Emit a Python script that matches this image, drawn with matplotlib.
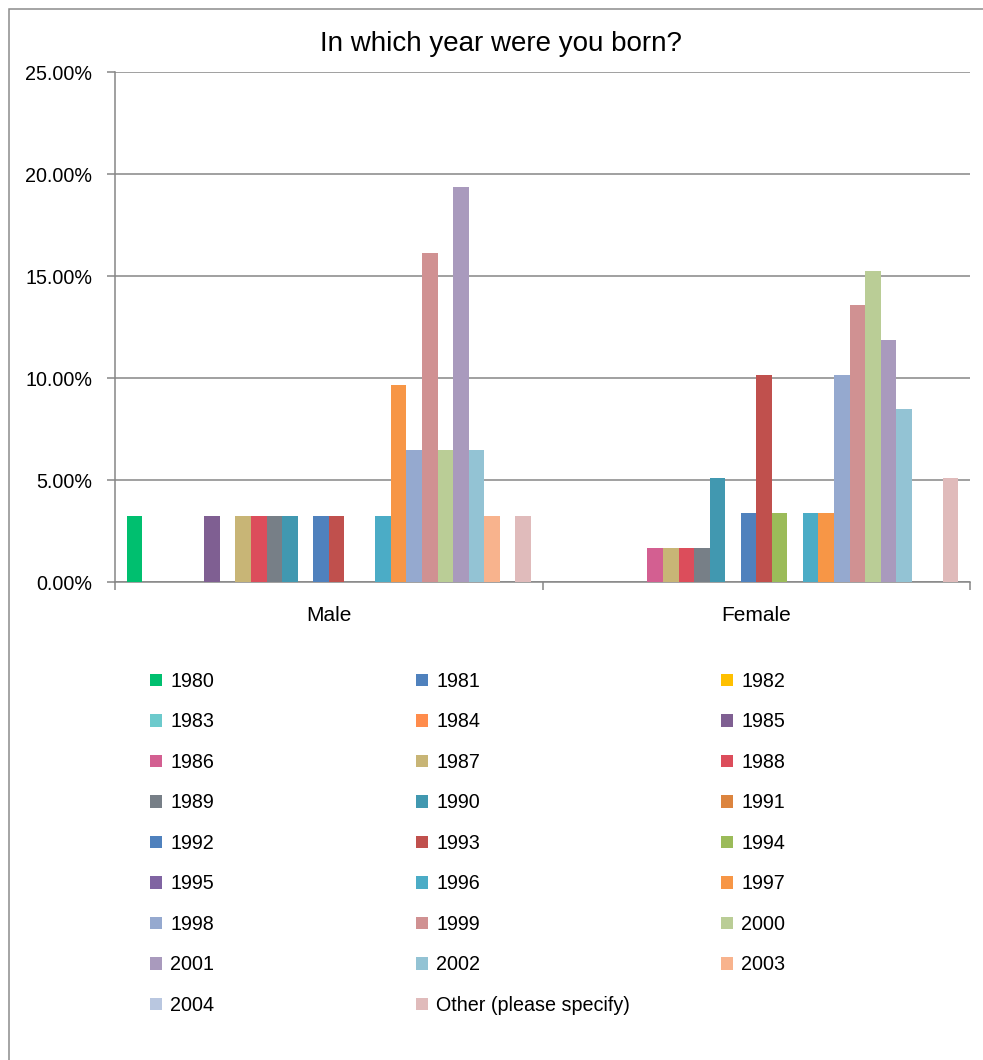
import numpy as np
import matplotlib
matplotlib.use("Agg")
import matplotlib.pyplot as plt
from matplotlib.patches import Rectangle

plt.rcParams["font.family"] = ["Liberation Sans", "DejaVu Sans"]

groups = ["Male", "Female"]
years = ["1980", "1981", "1982", "1983", "1984", "1985", "1986", "1987", "1988",
         "1989", "1990", "1991", "1992", "1993", "1994", "1995", "1996", "1997",
         "1998", "1999", "2000", "2001", "2002", "2003", "2004",
         "Other (please specify)"]

# percentage of respondents per birth year
male = [3.23, 0, 0, 0, 0, 3.23, 0, 3.23, 3.23, 3.23, 3.23, 0, 3.23, 3.23, 0, 0,
        3.23, 9.68, 6.45, 16.13, 6.45, 19.35, 6.45, 3.23, 0, 3.23]
female = [0, 0, 0, 0, 0, 0, 1.69, 1.69, 1.69, 1.69, 5.08, 0, 3.39, 10.17, 3.39, 0,
          3.39, 3.39, 10.17, 13.56, 15.25, 11.86, 8.47, 0, 0, 5.08]

colors = ["#00BF6F", "#4F81BD", "#FFC000", "#6CCACC", "#FF8C4C", "#7F5F92",
          "#D35F91", "#C8B576", "#DC4D5B", "#777F87", "#4198B0", "#DC843E",
          "#4F81BD", "#C0504D", "#9BBB59", "#8064A2", "#4BACC6", "#F79646",
          "#95A9CF", "#D09192", "#BACD96", "#A99ABD", "#93C3D4", "#F8B38D",
          "#B9C7E0", "#E0BBBB"]

fig = plt.figure(figsize=(9.83, 10.6), dpi=100)
ax = fig.add_axes([115 / 983, 1 - 582 / 1060, 855 / 983, 510 / 1060])

n = len(years)
w = 1 / (n + 1.5)
x = np.arange(len(groups))
bars = []
for i, yr in enumerate(years):
    b = ax.bar(x + (i - (n - 1) / 2) * w, [male[i], female[i]], w,
               color=colors[i], label=yr, zorder=3)
    bars.append(b)

ax.set_xlim(-0.5, 1.5)
ax.set_ylim(0, 25)
ax.set_yticks(np.arange(0, 26, 5))
ax.set_yticklabels([f"{v:.2f}%" for v in np.arange(0, 26, 5)], fontsize=14.2)
ax.yaxis.grid(True, color="#868686", lw=1.1, zorder=0)
ax.tick_params(axis="y", length=5.5, width=1.1, color="#868686", pad=11)

ax.set_xticks([-0.5, 0.5, 1.5])
ax.set_xticklabels([])
ax.tick_params(axis="x", which="major", length=6, width=1.1, color="#868686")
ax.set_xticks(x, minor=True)
ax.set_xticklabels(groups, minor=True, fontsize=15)
ax.tick_params(axis="x", which="minor", length=0, pad=17)

for side in ["top", "right"]:
    ax.spines[side].set_visible(False)
for side in ["left", "bottom"]:
    ax.spines[side].set_color("#868686")
    ax.spines[side].set_linewidth(1.1)

fig.text(501 / 983, 1 - 44 / 1060, "In which year were you born?",
         ha="center", va="center", fontsize=20)

# outer chart border
fig.add_artist(Rectangle((9 / 983, -0.1), 1.2, 1 - 9 / 1060 + 0.1,
                         transform=fig.transFigure, fill=False,
                         edgecolor="#8C8C8C", lw=1.1))

# legend laid out row by row in three columns
col_x = [150, 416, 721]
for c in range(3):
    idx = list(range(c, n, 3))
    fig.legend([bars[i] for i in idx], [years[i] for i in idx],
               loc="upper left", bbox_to_anchor=(col_x[c] / 983, 1 - 672 / 1060),
               frameon=False, fontsize=14.2, handlelength=0.62, handleheight=0.62,
               handletextpad=0.4, labelspacing=1.09, borderpad=0, borderaxespad=0)

fig.savefig("out.png", dpi=100)
